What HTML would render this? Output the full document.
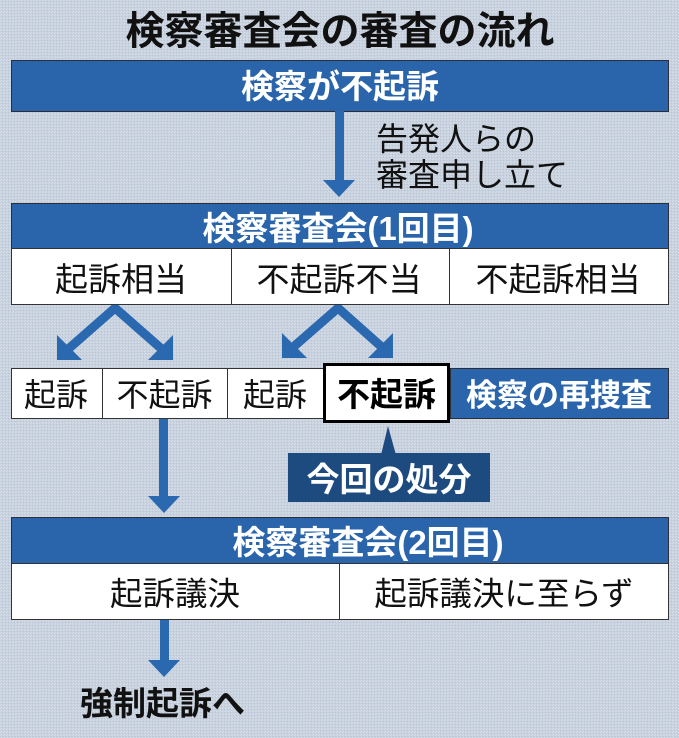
<!DOCTYPE html>
<html><head><meta charset="utf-8"><style>
html,body{margin:0;padding:0;background:#c8d1de;}
svg{display:block;}
text{font-family:"Liberation Sans","Noto Sans CJK JP",sans-serif;}
.b{font-weight:bold;}
</style></head><body>
<svg width="679" height="738" viewBox="0 0 679 738" xmlns="http://www.w3.org/2000/svg">
<defs>
<pattern id="tex" width="3" height="3" patternUnits="userSpaceOnUse">
<rect width="3" height="3" fill="#c8d1de"/>
<rect x="0" y="0" width="1" height="1" fill="#d8dfe9"/>
<rect x="2" y="1" width="1" height="1" fill="#b9c5d4"/>
<rect x="1" y="2" width="1" height="1" fill="#d5dce7"/>
</pattern>
</defs>
<rect width="679" height="738" fill="url(#tex)"/>

<!-- Title -->
<text x="340" y="44.5" font-size="39" text-anchor="middle" class="b" fill="#111">検察審査会の審査の流れ</text>

<!-- Box 1 -->
<rect x="11.5" y="60.5" width="657" height="51" fill="#2a65ab" stroke="#2a2f3a" stroke-width="1"/>
<text x="340" y="98" font-size="33" text-anchor="middle" class="b" fill="#fff">検察が不起訴</text>

<!-- Arrow 1 -->
<rect x="335" y="111" width="9" height="70" fill="#2a68b0"/>
<polygon points="323,180 355,180 339,197" fill="#2a68b0"/>
<text x="376" y="150" font-size="32" fill="#111">告発人らの</text>
<text x="376" y="186" font-size="32" fill="#111">審査申し立て</text>

<!-- V arrows (drawn under boxes) -->
<g fill="none" stroke="#2a68b0" stroke-width="9" stroke-linejoin="miter">
<polyline points="66,351 115,308 164,351"/>
<polyline points="291,349 338,308 384,349"/>
</g>
<g fill="#2a68b0">
<polygon points="57,360 57,335 82,360"/>
<polygon points="173,360 173,335 148,360"/>
<polygon points="282,358 282,333 307,358"/>
<polygon points="393,358 393,333 368,358"/>
</g>

<!-- Box 2 -->
<rect x="11.5" y="203.5" width="657" height="45" fill="#2a65ab" stroke="#2a2f3a" stroke-width="1"/>
<rect x="11.5" y="248.5" width="657" height="56" fill="#fff" stroke="#333" stroke-width="1"/>
<line x1="231.5" y1="248" x2="231.5" y2="305" stroke="#333" stroke-width="1"/>
<line x1="449.5" y1="248" x2="449.5" y2="305" stroke="#333" stroke-width="1"/>
<text x="338" y="240" font-size="33" text-anchor="middle" class="b" fill="#fff">検察審査会(1回目)</text>
<text x="121" y="291" font-size="33" text-anchor="middle" fill="#111">起訴相当</text>
<text x="339" y="291" font-size="33" text-anchor="middle" fill="#111">不起訴不当</text>
<text x="558" y="291" font-size="33" text-anchor="middle" fill="#111">不起訴相当</text>

<!-- Arrow 2 -->
<rect x="159" y="418" width="9" height="80" fill="#2a68b0"/>
<polygon points="148,496 180,496 164,513" fill="#2a68b0"/>

<!-- Callout -->
<polygon points="388,426 381,455 396,455" fill="#1d4b80"/>
<rect x="288" y="453" width="202" height="49" fill="#1d4b80"/>
<text x="389" y="491" font-size="33" text-anchor="middle" class="b" fill="#fff">今回の処分</text>

<!-- Row 2 -->
<rect x="11.5" y="368.5" width="312" height="50" fill="#fff" stroke="#333" stroke-width="1"/>
<line x1="102.5" y1="368" x2="102.5" y2="419" stroke="#333" stroke-width="1"/>
<line x1="227.5" y1="368" x2="227.5" y2="419" stroke="#333" stroke-width="1"/>
<rect x="450.5" y="368.5" width="218" height="50" fill="#2a65ab" stroke="#2a2f3a" stroke-width="1"/>
<rect x="324.5" y="364.5" width="124" height="57" fill="#fff" stroke="#000" stroke-width="3"/>
<text x="56" y="406" font-size="32" text-anchor="middle" fill="#111">起訴</text>
<text x="164.5" y="406" font-size="32" text-anchor="middle" fill="#111">不起訴</text>
<text x="275" y="406" font-size="32" text-anchor="middle" fill="#111">起訴</text>
<text x="386.5" y="406" font-size="33" text-anchor="middle" class="b" fill="#000">不起訴</text>
<text x="559" y="406" font-size="31" text-anchor="middle" class="b" fill="#fff">検察の再捜査</text>

<!-- Box 3 -->
<rect x="11.5" y="517.5" width="657" height="46" fill="#2a65ab" stroke="#2a2f3a" stroke-width="1"/>
<rect x="11.5" y="563.5" width="657" height="56" fill="#fff" stroke="#333" stroke-width="1"/>
<line x1="339.5" y1="563" x2="339.5" y2="620" stroke="#333" stroke-width="1"/>
<text x="368" y="554" font-size="33" text-anchor="middle" class="b" fill="#fff">検察審査会(2回目)</text>
<text x="175" y="605" font-size="32.5" text-anchor="middle" fill="#111">起訴議決</text>
<text x="504" y="605" font-size="32.5" text-anchor="middle" fill="#111">起訴議決に至らず</text>

<!-- Arrow 3 -->
<rect x="160" y="620" width="9" height="41" fill="#2a68b0"/>
<polygon points="148,660 180,660 164,677" fill="#2a68b0"/>
<text x="80" y="715" font-size="33" class="b" fill="#111">強制起訴へ</text>
</svg>
</body></html>
